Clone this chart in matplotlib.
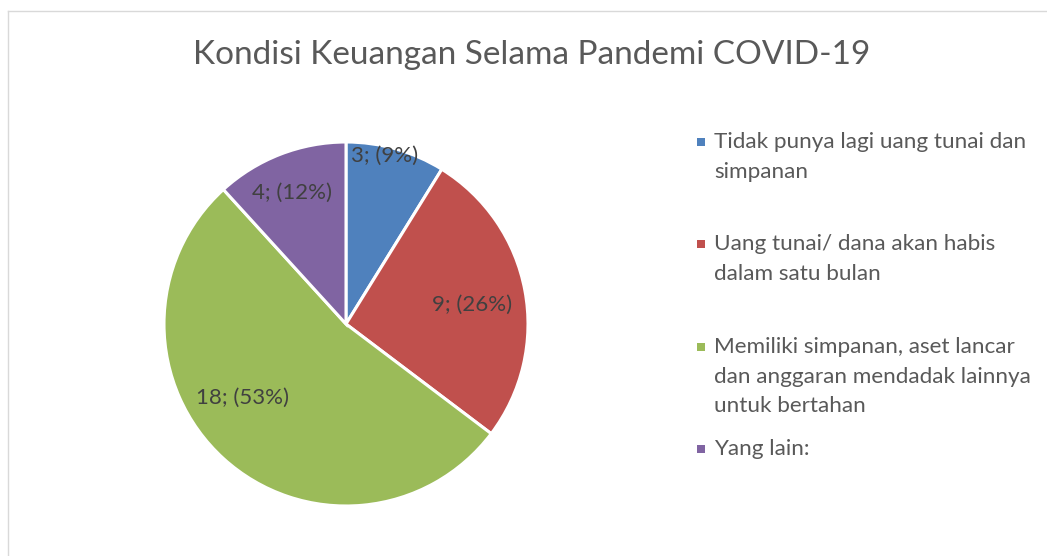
import matplotlib.pyplot as plt
import numpy as np
from matplotlib.lines import Line2D
from matplotlib.patches import Rectangle

# data
categories = [
    "Tidak punya lagi uang tunai dan\nsimpanan",
    "Uang tunai/ dana akan habis\ndalam satu bulan",
    "Memiliki simpanan, aset lancar\ndan anggaran mendadak lainnya\nuntuk bertahan",
    "Yang lain:",
]
counts = [3, 9, 18, 4]
colors = ["#4F81BD", "#C0504D", "#9BBB59", "#8064A2"]
title = "Kondisi Keuangan Selama Pandemi COVID-19"

# label placement (radius fraction, angle shift in degrees) per slice
label_pos = [(0.95, 3.0), (0.70, -2.0), (0.70, -12.0), (0.78, 1.0)]
# legend entry baselines of first line, pixels from top
legend_base = [148, 250, 353, 455]

W, H = 1047, 556
plt.rcParams["font.family"] = ["Lato", "DejaVu Sans"]

fig = plt.figure(figsize=(W / 100, H / 100), dpi=100)

# pie axes: centre (346, 324), radius 182 px
cx, cy, r = 346, 324, 182
ax = fig.add_axes([(cx - r) / W, (H - cy - r) / H, 2 * r / W, 2 * r / H])
wedges, _ = ax.pie(
    counts,
    colors=colors,
    startangle=90,
    counterclock=False,
    radius=1.0,
    wedgeprops=dict(edgecolor="white", linewidth=2.2),
)
ax.set_xlim(-1, 1)
ax.set_ylim(-1, 1)
ax.set_aspect("equal")
ax.axis("off")

total = sum(counts)
for w, n, (rf, shift) in zip(wedges, counts, label_pos):
    mid = np.deg2rad((w.theta1 + w.theta2) / 2 + shift)
    pct = round(100 * n / total)
    ax.text(rf * np.cos(mid), rf * np.sin(mid), f"{n}; ({pct}%)",
            ha="center", va="center", fontsize=16, color="#404040")

fig.text(532 / W, 1 - 55 / H, title, ha="center", va="center",
         fontsize=24, color="#595959")

# legend drawn by hand
for lab, col, b in zip(categories, colors, legend_base):
    fig.patches.append(Rectangle((697 / W, 1 - (b - 2) / H), 8 / W, 8 / H,
                                 transform=fig.transFigure, facecolor=col,
                                 edgecolor="none"))
    fig.text(714 / W, 1 - (b - 16) / H, lab, ha="left", va="top",
             fontsize=16.2, color="#595959", linespacing=1.6)

# chart frame
frame = "#D9D9D9"
fig.lines.append(Line2D([8 / W, 8 / W], [0, 1 - 11 / H], transform=fig.transFigure,
                        color=frame, linewidth=1))
fig.lines.append(Line2D([8 / W, 1], [1 - 11 / H, 1 - 11 / H], transform=fig.transFigure,
                        color=frame, linewidth=1))

fig.savefig("out.png", dpi=100)
